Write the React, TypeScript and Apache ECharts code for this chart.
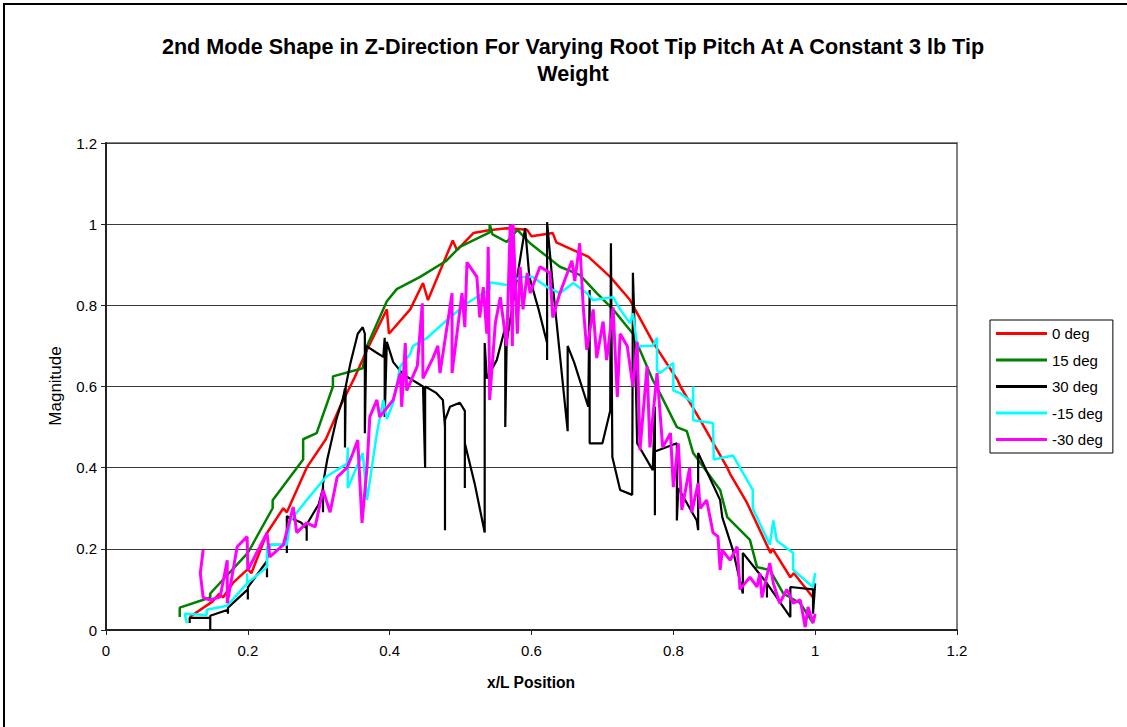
import React, { useEffect, useRef } from "react";
import * as echarts from "echarts";

const FONT = "'Liberation Sans', Arial, sans-serif";

const seriesNames = ["0 deg", "15 deg", "30 deg", "-15 deg", "-30 deg"];
const seriesColors = ["#FF0000", "#008000", "#000000", "#00FFFF", "#FF00FF"];

const deg0: number[][] = [
  [0.118, 0.032], [0.15, 0.07], [0.16, 0.09], [0.165, 0.08], [0.179, 0.116], [0.2, 0.15], [0.205, 0.14],
  [0.227, 0.239], [0.25, 0.3], [0.255, 0.29], [0.283, 0.4], [0.31, 0.47], [0.33, 0.55], [0.35, 0.62],
  [0.368, 0.69], [0.396, 0.79], [0.399, 0.73], [0.429, 0.79], [0.447, 0.855], [0.454, 0.813], [0.489, 0.96],
  [0.495, 0.936], [0.518, 0.978], [0.54, 0.985], [0.565, 0.99], [0.594, 0.986], [0.6, 0.97], [0.63, 0.978],
  [0.635, 0.955], [0.659, 0.936], [0.68, 0.92], [0.711, 0.87], [0.739, 0.813], [0.772, 0.707], [0.806, 0.616],
  [0.81, 0.6], [0.838, 0.517], [0.876, 0.4], [0.88, 0.385], [0.904, 0.313], [0.937, 0.19], [0.94, 0.2],
  [0.965, 0.13], [0.97, 0.14], [0.997, 0.08],
];

const deg15: number[][] = [
  [0.104, 0.032], [0.104, 0.055], [0.147, 0.08], [0.147, 0.09], [0.2, 0.19], [0.235, 0.3], [0.235, 0.32],
  [0.278, 0.42], [0.278, 0.47], [0.297, 0.485], [0.32, 0.6], [0.32, 0.625], [0.362, 0.645], [0.368, 0.7],
  [0.396, 0.81], [0.41, 0.84], [0.443, 0.87], [0.48, 0.91], [0.499, 0.944], [0.541, 0.98], [0.541, 1.0],
  [0.545, 0.975], [0.565, 0.956], [0.58, 0.986], [0.598, 0.953], [0.622, 0.92], [0.64, 0.895], [0.668, 0.875],
  [0.692, 0.83], [0.715, 0.79], [0.743, 0.73], [0.771, 0.616], [0.781, 0.584], [0.805, 0.5], [0.819, 0.49],
  [0.828, 0.436], [0.866, 0.345], [0.876, 0.278], [0.908, 0.222], [0.918, 0.155], [0.936, 0.148],
  [0.955, 0.09], [0.979, 0.066], [0.997, 0.017],
];

const deg30: number[][] = [
  [0.118, 0.017], [0.118, 0.03], [0.147, 0.03], [0.147, 0.0], [0.147, 0.035], [0.172, 0.05], [0.172, 0.04],
  [0.172, 0.055], [0.2, 0.1], [0.2, 0.075], [0.2, 0.105], [0.227, 0.17], [0.227, 0.13], [0.227, 0.175],
  [0.231, 0.21], [0.255, 0.21], [0.255, 0.19], [0.255, 0.21], [0.255, 0.28], [0.275, 0.265], [0.283, 0.25],
  [0.283, 0.22], [0.283, 0.26], [0.3, 0.31], [0.306, 0.35], [0.306, 0.29], [0.306, 0.36], [0.312, 0.42],
  [0.325, 0.52], [0.334, 0.57], [0.337, 0.595], [0.337, 0.45], [0.338, 0.6], [0.345, 0.66], [0.355, 0.73],
  [0.362, 0.746], [0.365, 0.73], [0.365, 0.485], [0.367, 0.7], [0.38, 0.685], [0.391, 0.673], [0.393, 0.72],
  [0.393, 0.525], [0.396, 0.71], [0.405, 0.66], [0.419, 0.63], [0.447, 0.6], [0.45, 0.4], [0.45, 0.6],
  [0.465, 0.585], [0.475, 0.567], [0.478, 0.5], [0.478, 0.246], [0.478, 0.517], [0.485, 0.55], [0.499, 0.56],
  [0.506, 0.54], [0.506, 0.35], [0.506, 0.46], [0.52, 0.36], [0.534, 0.24], [0.534, 0.707], [0.537, 0.62],
  [0.551, 0.665], [0.563, 0.746], [0.563, 0.5], [0.565, 0.71], [0.591, 0.99], [0.597, 0.87], [0.61, 0.79],
  [0.622, 0.707], [0.622, 0.665], [0.622, 1.005], [0.63, 0.85], [0.651, 0.49], [0.651, 0.7], [0.66, 0.66],
  [0.68, 0.55], [0.682, 0.838], [0.682, 0.46], [0.7, 0.46], [0.711, 0.54], [0.712, 0.953], [0.714, 0.426],
  [0.725, 0.345], [0.742, 0.333], [0.743, 0.88], [0.746, 0.707], [0.749, 0.46], [0.771, 0.394],
  [0.774, 0.55], [0.774, 0.283], [0.774, 0.44], [0.805, 0.46], [0.805, 0.27], [0.807, 0.35], [0.833, 0.27],
  [0.835, 0.246], [0.835, 0.436], [0.866, 0.32], [0.869, 0.278], [0.884, 0.197], [0.898, 0.09], [0.898, 0.19],
  [0.932, 0.115], [0.932, 0.08], [0.932, 0.115], [0.965, 0.032], [0.965, 0.106], [0.997, 0.1], [0.997, 0.04],
  [1.0, 0.115],
];

const degM15: number[][] = [
  [0.114, 0.017], [0.111, 0.04], [0.142, 0.037], [0.142, 0.05], [0.171, 0.06], [0.199, 0.115], [0.199, 0.14],
  [0.199, 0.115], [0.227, 0.155], [0.227, 0.205], [0.235, 0.21], [0.255, 0.21], [0.26, 0.27], [0.283, 0.32],
  [0.31, 0.377], [0.34, 0.41], [0.341, 0.45], [0.341, 0.35], [0.362, 0.436], [0.368, 0.32], [0.382, 0.485],
  [0.391, 0.567], [0.396, 0.52], [0.405, 0.56], [0.415, 0.65], [0.429, 0.68], [0.433, 0.7], [0.453, 0.72],
  [0.481, 0.764], [0.509, 0.805], [0.527, 0.825], [0.541, 0.838], [0.541, 0.857], [0.565, 0.85],
  [0.584, 0.87], [0.602, 0.87], [0.622, 0.845], [0.64, 0.83], [0.659, 0.855], [0.678, 0.83], [0.687, 0.813],
  [0.715, 0.82], [0.725, 0.79], [0.739, 0.756], [0.743, 0.78], [0.749, 0.7], [0.771, 0.7], [0.777, 0.72],
  [0.777, 0.64], [0.781, 0.633], [0.8, 0.658], [0.8, 0.59], [0.809, 0.584], [0.828, 0.56], [0.828, 0.6],
  [0.828, 0.517], [0.856, 0.51], [0.857, 0.42], [0.884, 0.43], [0.912, 0.345], [0.912, 0.3], [0.936, 0.21],
  [0.941, 0.27], [0.946, 0.22], [0.969, 0.19], [0.969, 0.148], [0.997, 0.106], [1.0, 0.14],
];

const degM30: number[][] = [
  [0.137, 0.197], [0.133, 0.14], [0.137, 0.08], [0.147, 0.074], [0.161, 0.082], [0.171, 0.172],
  [0.171, 0.066], [0.185, 0.205], [0.199, 0.23], [0.2, 0.148], [0.217, 0.205], [0.227, 0.239], [0.231, 0.18],
  [0.25, 0.21], [0.264, 0.303], [0.269, 0.24], [0.283, 0.264], [0.295, 0.254], [0.306, 0.345], [0.316, 0.29],
  [0.326, 0.377], [0.34, 0.4], [0.348, 0.435], [0.355, 0.468], [0.361, 0.264], [0.368, 0.4], [0.372, 0.525],
  [0.382, 0.567], [0.386, 0.525], [0.405, 0.567], [0.415, 0.633], [0.417, 0.55], [0.422, 0.707],
  [0.424, 0.59], [0.439, 0.65], [0.446, 0.805], [0.447, 0.62], [0.461, 0.67], [0.468, 0.7], [0.471, 0.633],
  [0.488, 0.83], [0.488, 0.633], [0.502, 0.83], [0.506, 0.746], [0.509, 0.906], [0.523, 0.87], [0.527, 0.77],
  [0.532, 0.845], [0.537, 0.73], [0.539, 0.944], [0.541, 0.567], [0.549, 0.756], [0.556, 0.82], [0.565, 0.7],
  [0.57, 0.998], [0.573, 0.7], [0.574, 1.0], [0.58, 0.73], [0.584, 0.895], [0.588, 0.79], [0.594, 0.88],
  [0.598, 0.83], [0.612, 0.895], [0.626, 0.88], [0.63, 0.77], [0.64, 0.83], [0.657, 0.91], [0.661, 0.86],
  [0.668, 0.953], [0.673, 0.795], [0.678, 0.69], [0.687, 0.79], [0.692, 0.67], [0.701, 0.76], [0.706, 0.665],
  [0.715, 0.795], [0.721, 0.574], [0.725, 0.73], [0.735, 0.7], [0.743, 0.6], [0.749, 0.71], [0.753, 0.443],
  [0.763, 0.65], [0.767, 0.45], [0.777, 0.633], [0.785, 0.45], [0.796, 0.485], [0.8, 0.352], [0.807, 0.46],
  [0.812, 0.296], [0.823, 0.4], [0.826, 0.29], [0.835, 0.362], [0.838, 0.3], [0.847, 0.32], [0.856, 0.24],
  [0.863, 0.23], [0.866, 0.148], [0.869, 0.197], [0.88, 0.172], [0.89, 0.205], [0.894, 0.1], [0.908, 0.13],
  [0.918, 0.106], [0.922, 0.14], [0.925, 0.08], [0.936, 0.165], [0.941, 0.115], [0.95, 0.066], [0.96, 0.1],
  [0.969, 0.066], [0.979, 0.074], [0.986, 0.007], [0.99, 0.057], [0.997, 0.017], [1.0, 0.04],
];

const seriesData = [deg0, deg15, deg30, degM15, degM30];
const seriesWidths = [2.5, 2.5, 2.2, 2.5, 3];

const titleLines = [
  "2nd Mode Shape in Z-Direction For Varying Root Tip Pitch At A Constant 3 lb Tip",
  "Weight",
];
const xTitle = "x/L Position";
const yTitle = "Magnitude";

export default function App() {
  const ref = useRef<HTMLDivElement>(null);
  useEffect(() => {
    if (!ref.current) return;
    const chart = echarts.init(ref.current, undefined, { renderer: "svg" });
    chart.setOption({
      animation: false,
      backgroundColor: "#ffffff",
      textStyle: { fontFamily: FONT },
      grid: {
        left: 106,
        top: 143,
        right: 170,
        bottom: 97,
        show: true,
        borderColor: "#808080",
        borderWidth: 2,
        backgroundColor: "transparent",
        outerBoundsMode: "none",
      },
      xAxis: {
        type: "value",
        min: 0,
        max: 1.2,
        interval: 0.2,
        axisLine: { show: true, onZero: false, lineStyle: { color: "#222", width: 2 } },
        axisTick: { show: true, inside: false, length: 5, lineStyle: { color: "#222", width: 1 } },
        axisLabel: { fontSize: 15, color: "#000", margin: 13, fontFamily: FONT },
        splitLine: { show: false },
      },
      yAxis: {
        type: "value",
        min: 0,
        max: 1.2,
        interval: 0.2,
        axisLine: { show: true, onZero: false, lineStyle: { color: "#222", width: 2 } },
        axisTick: { show: true, inside: false, length: 5, lineStyle: { color: "#222", width: 1 } },
        axisLabel: { fontSize: 15, color: "#000", margin: 9, fontFamily: FONT },
        splitLine: { show: true, lineStyle: { color: "#3a3a3a", width: 1 } },
      },
      legend: {
        orient: "vertical",
        left: 990,
        top: 320,
        data: seriesNames,
        icon: "rect",
        itemWidth: 51,
        itemHeight: 3,
        itemGap: 11.5,
        padding: [6, 10, 6, 6],
        borderColor: "#000",
        borderWidth: 1,
        backgroundColor: "#fff",
        textStyle: { fontSize: 15, color: "#000", fontFamily: FONT },
      },
      series: seriesNames.map((name, i) => ({
        name,
        type: "line",
        data: seriesData[i],
        showSymbol: false,
        symbol: "none",
        smooth: false,
        color: seriesColors[i],
        lineStyle: { color: seriesColors[i], width: seriesWidths[i] },
      })),
      graphic: [
        {
          type: "rect",
          shape: { x: 4, y: 4, width: 1200, height: 800 },
          style: { fill: "none", stroke: "#000", lineWidth: 2 },
          silent: true,
          z: 100,
        },
        ...titleLines.map((t, i) => ({
          type: "text",
          x: 573,
          y: 46 + i * 27,
          style: {
            text: t,
            font: `bold 21.6px ${FONT}`,
            fill: "#000",
            textAlign: "center",
            textVerticalAlign: "middle",
          },
        })),
        {
          type: "text",
          x: 531,
          y: 682,
          style: {
            text: xTitle,
            font: `bold 15.6px ${FONT}`,
            fill: "#000",
            textAlign: "center",
            textVerticalAlign: "middle",
          },
        },
        {
          type: "text",
          x: 55,
          y: 386,
          rotation: Math.PI / 2,
          style: {
            text: yTitle,
            font: `17px ${FONT}`,
            fill: "#000",
            textAlign: "center",
            textVerticalAlign: "middle",
          },
        },
      ],
    });
    return () => chart.dispose();
  }, []);
  return (
    <div
      ref={ref}
      style={{ position: "absolute", left: 0, top: 0, width: 1127, height: 727, background: "#fff" }}
    />
  );
}
